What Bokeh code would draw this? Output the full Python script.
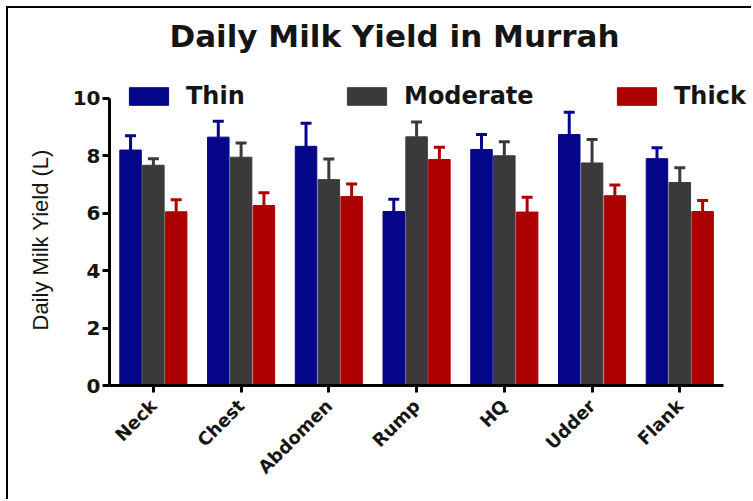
import math
from bokeh.plotting import figure
from bokeh.models import (ColumnDataSource, Range1d, Whisker, TeeHead,
                          Legend, LegendItem, Label, Title, FixedTicker)
from bokeh.transform import dodge
from bokeh.embed import file_html
from bokeh.resources import INLINE

# ---- data ----
regions = ["Neck", "Chest", "Abdomen", "Rump", "HQ", "Udder", "Flank"]
thin = [8.2, 8.65, 8.33, 6.06, 8.22, 8.74, 7.9]
thin_err = [0.5, 0.55, 0.8, 0.43, 0.52, 0.78, 0.38]
moderate = [7.67, 7.95, 7.17, 8.66, 8.0, 7.75, 7.07]
moderate_err = [0.23, 0.5, 0.72, 0.52, 0.49, 0.82, 0.51]
thick = [6.05, 6.27, 6.58, 7.87, 6.04, 6.61, 6.06]
thick_err = [0.42, 0.44, 0.44, 0.43, 0.52, 0.37, 0.38]
y_ticks = [0, 2, 4, 6, 8, 10]
title_text = "Daily Milk Yield in Murrah"
y_label = "Daily Milk Yield (L)"

series = [("Thin", thin, thin_err, "#06068a", -0.26),
          ("Moderate", moderate, moderate_err, "#3a3a3a", 0.0),
          ("Thick", thick, thick_err, "#ad0000", 0.26)]

# category slots on a numeric axis: centre of slot i is i + 0.5
pos = [i + 0.5 for i in range(len(regions))]

p = figure(x_range=Range1d(0, 7.34), y_range=Range1d(0, 13.13),
           width=745, height=493, output_backend="svg", toolbar_location=None,
           min_border_left=99, min_border_right=0, min_border_top=0, min_border_bottom=116)
p.margin = (6, 0, 0, 6)
p.styles = {"border-left": "2px solid black", "border-top": "2px solid black"}
p.outline_line_color = None
p.grid.grid_line_color = None
p.background_fill_color = "white"
p.border_fill_color = "white"

legend_x = [15, 233, 503]
for (name, vals, errs, color, off), lx in zip(series, legend_x):
    src = ColumnDataSource(dict(pos=pos, val=vals,
                                upper=[v + e for v, e in zip(vals, errs)]))
    r = p.vbar(x=dodge("pos", off), top="val", width=0.245,
               source=src, fill_color=color, line_color=color)
    w = Whisker(base=dodge("pos", off), lower="val", upper="upper",
                source=src, line_color=color, line_width=3, level="overlay",
                upper_head=TeeHead(size=11, line_color=color, line_width=3),
                lower_head=None)
    p.add_layout(w)
    leg = Legend(items=[LegendItem(label=name, renderers=[r])], location=(lx, 275),
                 glyph_width=49, glyph_height=22, label_standoff=13,
                 label_height=28,
                 padding=0, margin=0, border_line_alpha=0, background_fill_alpha=0,
                 label_text_font="DejaVu Sans", label_text_font_style="bold",
                 label_text_font_size="24px", label_text_color="#151515")
    p.add_layout(leg, "center")

title = Label(text=title_text, x=285, y=350, x_units="screen", y_units="screen",
              text_align="center", text_baseline="middle",
              text_font="DejaVu Sans", text_font_size="31px",
              text_font_style="bold", text_color="#151515")
p.add_layout(title)

yax = p.yaxis[0]
yax.ticker = FixedTicker(ticks=y_ticks)
yax.bounds = (0, 10)
yax.major_label_text_font = "DejaVu Sans"
yax.major_label_text_font_style = "bold"
yax.major_label_text_font_size = "20px"
yax.major_label_text_color = "#151515"
yax.axis_line_width = 3
yax.major_tick_line_width = 3
yax.major_tick_out = 7
yax.major_tick_in = 0
yax.minor_tick_line_color = None
yax.major_label_standoff = 2

ytitle = Title(text=y_label, align="left", offset=55, standoff=34,
               text_font="Liberation Sans", text_font_size="22px",
               text_font_style="normal", text_color="#151515")
p.add_layout(ytitle, "left")

xax = p.xaxis[0]
xax.ticker = FixedTicker(ticks=pos)
xax.major_label_overrides = {x: name for x, name in zip(pos, regions)}
xax.bounds = (0, len(regions))
xax.axis_line_width = 3
xax.major_tick_line_width = 3
xax.major_tick_out = 7
xax.major_tick_in = 0
xax.minor_tick_line_color = None
xax.major_label_orientation = math.pi / 4
xax.major_label_text_font = "DejaVu Sans"
xax.major_label_text_font_style = "bold"
xax.major_label_text_font_size = "18px"
xax.major_label_text_color = "#151515"
xax.major_label_standoff = 10

open("out.html", "w").write(file_html(p, INLINE))
